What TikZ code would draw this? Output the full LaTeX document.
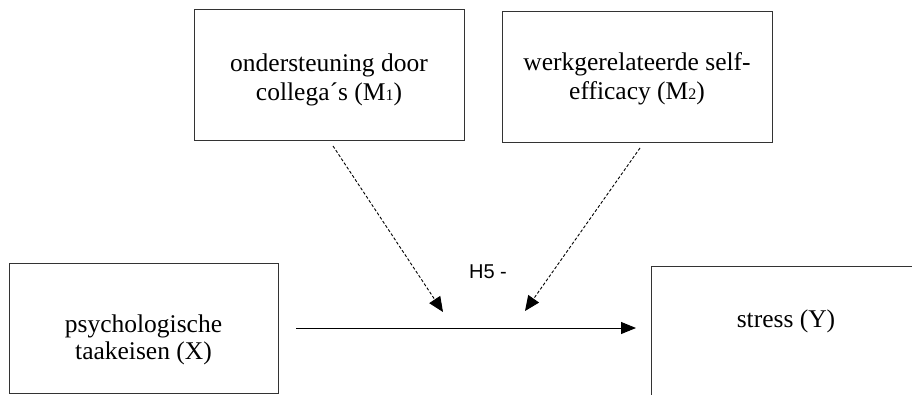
\documentclass[tikz,border=0pt]{standalone}
\usepackage{fontspec}
\setmainfont{Liberation Serif}
\newfontfamily\hfont{Liberation Sans}
\usetikzlibrary{arrows.meta}
\tikzset{
  boxnode/.style={draw=black!80, line width=1.1pt, rectangle, inner sep=0pt, anchor=north west},
  lbl/.style={anchor=base, inner sep=0pt, font=\fontsize{25.5}{29}\selectfont},
  hlbl/.style={anchor=base, inner sep=0pt, font=\hfont\fontsize{20}{22}\selectfont},
  mainarrow/.style={line width=0.9pt, -{Triangle[length=15pt,width=12pt]}},
  modarrow/.style={line width=0.9pt, dash pattern=on 3pt off 2pt, -{Triangle[length=15pt,width=13pt]}},
}
\newcommand{\smalldigit}[1]{{\fontsize{16}{16}\selectfont #1}}
\begin{document}
\begin{tikzpicture}[x=1pt,y=-1pt]
  \clip (0,0) rectangle (912,394);
  \fill[white] (0,0) rectangle (912,394);
  % boxes
  \node[boxnode, minimum width=270pt, minimum height=131pt] (M1) at (194,9) {};
  \node[boxnode, minimum width=270pt, minimum height=131pt] (M2) at (502,11) {};
  \node[boxnode, minimum width=269pt, minimum height=130pt] (X) at (9,263) {};
  \node[boxnode, minimum width=290pt, minimum height=160pt] (Y) at (651,266) {};
  % texts
  \node[lbl] (m1a) at (329,71) {ondersteuning door};
  \node[lbl] (m1b) at (329,100) {collega´s (M\smalldigit{1})};
  \node[lbl] (m2a) at (637,70) {werkgerelateerde self-};
  \node[lbl] (m2b) at (637,99) {efficacy (M\smalldigit{2})};
  \node[lbl] (xa) at (143.5,332) {psychologische};
  \node[lbl] (xb) at (143.5,359) {taakeisen (X)};
  \node[lbl] (ya) at (786,327) {stress (Y)};
  \node[hlbl] (h5) at (488,278) {H5 -};
  % connector coordinates
  \coordinate (xs) at (296,328);
  \coordinate (ye) at (636,328);
  \coordinate (m1s) at (333,146);
  \coordinate (m1e) at (443,312);
  \coordinate (m2s) at (640,148);
  \coordinate (m2e) at (525,311);
  \draw[mainarrow] (xs) -- (ye);
  \draw[modarrow] (m1s) -- (m1e);
  \draw[modarrow] (m2s) -- (m2e);
\end{tikzpicture}
\end{document}
